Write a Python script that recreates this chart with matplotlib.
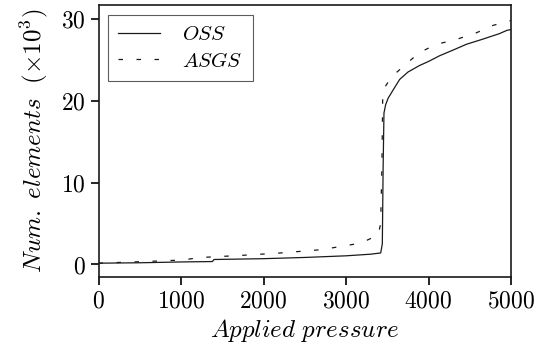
import matplotlib
matplotlib.use("Agg")
import matplotlib.pyplot as plt
from matplotlib.ticker import FuncFormatter

# values (y in thousands of elements)
oss_pressure = [0, 500, 1000, 1380, 1400, 2000, 2500, 3000, 3300, 3420, 3440,
                3450, 3460, 3480, 3510, 3570, 3650, 3750, 3890, 4000, 4135,
                4300, 4460, 4650, 4860, 4950, 5000]
oss_elements = [0.15, 0.2, 0.3, 0.35, 0.6, 0.7, 0.85, 1.05, 1.25, 1.4, 2.5,
                12.0, 18.5, 19.5, 20.3, 21.3, 22.6, 23.5, 24.3, 24.8, 25.5,
                26.2, 26.9, 27.5, 28.2, 28.6, 28.7]

asgs_pressure = [0, 500, 1000, 1250, 1730, 2210, 2700, 3180, 3390, 3420, 3435,
                 3445, 3480, 3550, 3730, 3890, 4100, 4340, 4580, 4780, 5000]
asgs_elements = [0.15, 0.33, 0.53, 0.85, 1.1, 1.4, 1.8, 2.6, 3.6, 5.0, 12.0,
                 20.9, 21.8, 22.9, 24.5, 25.9, 26.9, 27.5, 28.3, 29.2, 29.8]

x_ticks = [0, 1000, 2000, 3000, 4000, 5000]
y_ticks = [0, 10, 20, 30]

plt.rcParams["mathtext.fontset"] = "cm"
plt.rcParams["font.family"] = ["DejaVu Serif"]

fig = plt.figure(figsize=(5.36, 3.56), dpi=100)
ax = fig.add_axes([0.1838, 0.2228, 0.7696, 0.7632])

ax.plot(oss_pressure, oss_elements, color="#1a1a1a", lw=0.9, label="$OSS$")
ax.plot(asgs_pressure, asgs_elements, color="#1a1a1a", lw=0.9,
        dashes=(3.6, 10.8), label="$ASGS$")

ax.set_xlim(0, 5000)
ax.set_ylim(-1.5, 31.7)
ax.set_xticks(x_ticks)
ax.set_yticks(y_ticks)
math_fmt = FuncFormatter(lambda v, pos: f"${v:g}$")
ax.xaxis.set_major_formatter(math_fmt)
ax.yaxis.set_major_formatter(math_fmt)
ax.tick_params(direction="out", length=5.5, width=1.2, labelsize=17, pad=4)
for s in ax.spines.values():
    s.set_linewidth(1.2)
    s.set_color("#1a1a1a")

ax.set_xlabel(r"$Applied\ pressure$", fontsize=18, labelpad=3)
ax.set_ylabel(r"$Num.\ elements\ \ (\times 10^3)$", fontsize=18, labelpad=8)

leg = ax.legend(loc="upper left", bbox_to_anchor=(0.023, 0.963),
                borderaxespad=0, fontsize=15, fancybox=False,
                handlelength=2.0, handletextpad=1.05, labelspacing=0.35,
                borderpad=0.5)
leg.get_frame().set_edgecolor("#333333")
leg.get_frame().set_linewidth(0.8)

fig.savefig("out.png", dpi=100)
